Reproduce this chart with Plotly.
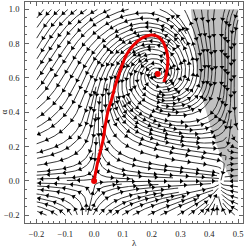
import math
import numpy as np
import plotly.graph_objects as go

# ---------------- values ----------------
x_tick_vals = [-0.2, -0.1, 0.0, 0.1, 0.2, 0.3, 0.4, 0.5]
x_tick_text = ["\u22120.2", "\u22120.1", "0.0", "0.1", "0.2", "0.3", "0.4", "0.5"]
y_tick_vals = [-0.2, 0.0, 0.2, 0.4, 0.6, 0.8, 1.0]
y_tick_text = ["\u22120.2", "0.0", "0.2", "0.4", "0.6", "0.8", "1.0"]

x_range = [-0.24, 0.517]
y_range = [-0.245, 1.042]
lam_domain = [-0.2, 0.5]
alpha_domain = [-0.2, 1.0]

# grey region: left boundary (lambda at given alpha), right edge at lambda = 0.5
gray_alpha = [1.0, 0.665, 0.47, 0.33, 0.22, 0.12, 0.05, 0.0]
gray_lam = [0.336, 0.357, 0.378, 0.402, 0.423, 0.446, 0.463, 0.475]

# red trajectory
red_lam = [0.0, 0.014, 0.031, 0.039, 0.049, 0.060, 0.074, 0.091, 0.112, 0.137,
           0.165, 0.193, 0.218, 0.235, 0.249, 0.256, 0.254, 0.249, 0.242]
red_alpha = [0.0, 0.122, 0.238, 0.326, 0.413, 0.471, 0.558, 0.645, 0.733, 0.791,
             0.831, 0.849, 0.843, 0.820, 0.773, 0.715, 0.657, 0.610, 0.576]

# red points (saddle at origin, spiral focus)
point_lam = [0.0, 0.221]
point_alpha = [0.0, 0.622]

# fixed point of the flow along alpha = 0
node_lam = 0.44

# flow directions: lambda, alpha, angle on screen (deg)
sample_lam = [-0.17, -0.08, 0.0, -0.17, -0.08, 0.0, -0.17, -0.08, 0.02, -0.17, -0.08,
              -0.17, -0.08, -0.15, -0.05,
              0.03, 0.05, 0.09, 0.015,
              0.10, 0.15, 0.205, 0.18, 0.26, 0.243, 0.255, 0.30, 0.32, 0.30,
              0.221, 0.17, 0.221, 0.26,
              0.20, 0.13, 0.10, 0.20, 0.30, 0.38, 0.10, 0.25, 0.35, 0.35, 0.38,
              -0.17, -0.08, 0.05, 0.18, 0.33, 0.47, -0.17, 0.40,
              0.45, 0.42, 0.47, 0.44, 0.48, 0.40, 0.49]
sample_alpha = [0.97, 0.97, 0.97, 0.82, 0.82, 0.82, 0.65, 0.65, 0.65, 0.48, 0.48,
                0.30, 0.25, 0.12, 0.10,
                0.30, 0.45, 0.64, 0.12,
                0.95, 0.83, 0.847, 0.99, 0.96, 0.80, 0.69, 0.88, 0.70, 0.58,
                0.56, 0.62, 0.69, 0.62,
                0.45, 0.50, 0.30, 0.30, 0.30, 0.25, 0.15, 0.15, 0.12, 0.33, 0.18,
                -0.08, -0.15, -0.15, -0.12, -0.12, -0.12, -0.18, -0.18,
                0.95, 0.75, 0.60, 0.45, 0.35, 0.92, 0.85]
sample_angle = [226, 224, 215, 230, 232, 236, 236, 240, 246, 238, 244,
                220, 235, 200, 215,
                262, 253, 248, 265,
                200, 218, 172, 178, 140, 117, 92, 110, 95, 88,
                10, 265, 175, 85,
                15, 290, 305, 350, 348, 335, 330, 352, 345, 350, 335,
                165, 125, 60, 30, 35, 130, 150, 70,
                84, 86, 84, 88, 80, 88, 84]

# ---------------- screen scale ----------------
SX = 218.0 / (x_range[1] - x_range[0])
SY = 221.0 / (y_range[1] - y_range[0])

# ---------------- fit a smooth field to the directions ----------------
A_COEF = 6.0
flam, falp = point_lam[1], point_alpha[1]
powers = [(i, j) for i in range(4) for j in range(4) if i + j <= 3]


def basis(l, a):
    x, y = l - 0.15, a - 0.4
    return np.array([x ** i * y ** j for (i, j) in powers])


def aterm(l):
    return A_COEF * l * (node_lam - l)


nb = len(powers)
rows, rhs = [], []
for l, a, th in zip(sample_lam, sample_alpha, sample_angle):
    t = math.radians(th)
    dl, da = math.cos(t) / SX, math.sin(t) / SY
    n = math.hypot(dl, da)
    dl, da = dl / n, da / n
    ph = basis(l, a)
    T = aterm(l)
    w = 1.6 if l >= 0.4 else 1.0
    r = np.zeros(2 * nb); r[:nb] = da * a * ph; r[nb:] = -dl * a * ph
    rows.append(w * r); rhs.append(-w * da * T)
    r = np.zeros(2 * nb); r[:nb] = dl * a * ph; r[nb:] = da * a * ph
    rows.append(0.4 * r); rhs.append(0.4 * (0.5 - dl * T))
wf = 20.0
ph = basis(flam, falp)
r = np.zeros(2 * nb); r[:nb] = falp * ph; rows.append(wf * r); rhs.append(-wf * aterm(flam))
r = np.zeros(2 * nb); r[nb:] = falp * ph; rows.append(wf * r); rhs.append(0.0)
r = np.zeros(2 * nb); r[nb:] = basis(0.0, 0.0); rows.append(2 * r); rhs.append(2 * -1.5)
r = np.zeros(2 * nb); r[nb:] = basis(node_lam, 0.0); rows.append(2 * r); rhs.append(2 * -0.6)
r = np.zeros(2 * nb); r[:nb] = basis(0.0, 0.0); rows.append(r); rhs.append(-0.3)
M = np.vstack(rows + [0.03 * np.eye(2 * nb)])
b = np.concatenate([np.array(rhs), np.zeros(2 * nb)])
coef = np.linalg.lstsq(M, b, rcond=None)[0]
cq, ch = coef[:nb], coef[nb:]


def field(l, a):
    ph = basis(l, a)
    return aterm(l) + a * float(ph @ cq), a * float(ph @ ch)


# ---------------- evenly spaced streamlines ----------------
W = (lam_domain[1] - lam_domain[0]) * SX
H = (alpha_domain[1] - alpha_domain[0]) * SY
DSEP = 5.5
DTEST = 0.45 * DSEP
STEP = 0.5
VMIN = 0.3
MAXSTEPS = 4000
grid = {}


def vel(X, Y):
    F, G = field(lam_domain[0] + X / SX, alpha_domain[0] + Y / SY)
    return F * SX, G * SY


def add_pt(X, Y, lid, s):
    grid.setdefault((int(X // DSEP), int(Y // DSEP)), []).append((X, Y, lid, s))


def remove_line(lid):
    for k in list(grid.keys()):
        grid[k] = [p for p in grid[k] if p[2] != lid]


def near(X, Y, r, lid=None, s=0.0):
    cx, cy = int(X // DSEP), int(Y // DSEP)
    r2 = r * r
    for i in (cx - 1, cx, cx + 1):
        for j in (cy - 1, cy, cy + 1):
            for (px, py, pl, ps) in grid.get((i, j), ()):
                if pl == lid and abs(ps - s) < 3 * DSEP:
                    continue
                if (px - X) ** 2 + (py - Y) ** 2 < r2:
                    return True
    return False


def direction(X, Y, sgn):
    vx, vy = vel(X, Y)
    n = math.hypot(vx, vy)
    if n < VMIN:
        return None
    return sgn * vx / n, sgn * vy / n


def half(X, Y, sgn, lid):
    pts = []
    s = 0.0
    for _ in range(MAXSTEPS):
        d1 = direction(X, Y, sgn)
        if d1 is None:
            break
        d2 = direction(X + 0.5 * STEP * d1[0], Y + 0.5 * STEP * d1[1], sgn)
        if d2 is None:
            break
        Xn, Yn = X + STEP * d2[0], Y + STEP * d2[1]
        if not (0 <= Xn <= W and 0 <= Yn <= H):
            break
        s += STEP
        if near(Xn, Yn, DTEST, lid, sgn * s):
            break
        add_pt(Xn, Yn, lid, sgn * s)
        pts.append((Xn, Yn))
        X, Y = Xn, Yn
    return pts


lines = []


def make_line(X, Y, lid):
    if not (0 <= X <= W and 0 <= Y <= H):
        return None
    if near(X, Y, DSEP * 0.95):
        return None
    if direction(X, Y, 1) is None:
        return None
    add_pt(X, Y, lid, 0.0)
    fw = half(X, Y, 1, lid)
    bw = half(X, Y, -1, lid)
    pts = bw[::-1] + [(X, Y)] + fw
    if len(pts) * STEP < 6:
        remove_line(lid)
        return None
    return pts


queue = []
seed_grid = [(gx, gy) for gy in np.arange(H - 4, 0, -14) for gx in np.arange(4, W, 14)]
lid = 0
for sx, sy in seed_grid:
    queue.append((sx, sy))
    while queue:
        X, Y = queue.pop(0)
        pts = make_line(X, Y, lid)
        if pts is None:
            continue
        lines.append(pts)
        lid += 1
        for k in range(2, len(pts) - 2, 3):
            dx = pts[k + 1][0] - pts[k - 1][0]
            dy = pts[k + 1][1] - pts[k - 1][1]
            n = math.hypot(dx, dy)
            if n == 0:
                continue
            nx, ny = -dy / n, dx / n
            for sg in (1, -1):
                queue.append((pts[k][0] + sg * DSEP * nx, pts[k][1] + sg * DSEP * ny))


def in_gray(l, a):
    if a < 0 or a > 1.0 or l > 0.5:
        return False
    return l >= np.interp(a, gray_alpha[::-1], gray_lam[::-1])


line_x, line_y = [], []
arr_x, arr_y, arr_ang = [], [], []
ARROW_GAP = 16.0
ARROW_OFF = 6.0
for pts in lines:
    for (X, Y) in pts[::2]:
        line_x.append(lam_domain[0] + X / SX)
        line_y.append(alpha_domain[0] + Y / SY)
    line_x.append(None)
    line_y.append(None)
    L = (len(pts) - 1) * STEP
    if L < 8:
        continue
    targets = list(np.arange(ARROW_OFF, L - 2, ARROW_GAP)) if L > ARROW_OFF + 2 else [L / 2]
    for t in targets:
        k = int(round(t / STEP))
        k = min(max(k, 1), len(pts) - 2)
        dx = pts[k + 1][0] - pts[k - 1][0]
        dy = pts[k + 1][1] - pts[k - 1][1]
        l = lam_domain[0] + pts[k][0] / SX
        a = alpha_domain[0] + pts[k][1] / SY
        if in_gray(l, a):
            dx, dy = -dx, -dy
        arr_x.append(l)
        arr_y.append(a)
        arr_ang.append(math.degrees(math.atan2(dx, dy)))

fig = go.Figure()
fig.add_trace(go.Scatter(
    x=gray_lam + [0.5, 0.5], y=gray_alpha + [0.0, 1.0],
    fill="toself", fillcolor="rgb(192,192,192)", mode="none", hoverinfo="skip"))
fig.add_trace(go.Scatter(
    x=line_x, y=line_y, mode="lines",
    line=dict(color="rgb(30,30,30)", width=0.9), hoverinfo="skip"))
fig.add_trace(go.Scatter(
    x=arr_x, y=arr_y, mode="markers",
    marker=dict(symbol="triangle-up", size=4.5, angle=arr_ang, color="black",
                line=dict(width=0)), hoverinfo="skip"))
fig.add_trace(go.Scatter(
    x=red_lam, y=red_alpha, mode="lines",
    line=dict(color="rgb(235,0,0)", width=3, shape="spline"), hoverinfo="skip"))
fig.add_trace(go.Scatter(
    x=point_lam, y=point_alpha, mode="markers",
    marker=dict(color="rgb(235,0,0)", size=6), hoverinfo="skip"))

axis_common = dict(
    showgrid=False, zeroline=False, showline=True, linecolor="#666", linewidth=0.8,
    mirror="ticks", ticks="inside", ticklen=4, tickwidth=0.7, tickcolor="#666",
    tickfont=dict(family="Liberation Serif", size=8.5, color="#222"),
    ticklabelstandoff=3, automargin=False,
)
fig.update_layout(
    width=249, height=248,
    margin=dict(l=25, r=6, t=2, b=25, autoexpand=False),
    paper_bgcolor="white", plot_bgcolor="white",
    showlegend=False,
    xaxis=dict(range=x_range, tickvals=x_tick_vals, ticktext=x_tick_text,
               minor=dict(dtick=0.02, ticks="inside", ticklen=2, tickcolor="#666", showgrid=False),
               **axis_common),
    yaxis=dict(range=y_range, tickvals=y_tick_vals, ticktext=y_tick_text,
               minor=dict(dtick=0.05, ticks="inside", ticklen=2, tickcolor="#666", showgrid=False),
               **axis_common),
    annotations=[
        dict(text="\u03bb", x=0.5, y=0, xref="paper", yref="paper", xanchor="center",
             yanchor="top", yshift=-13, showarrow=False,
             font=dict(family="Liberation Serif", size=9, color="#222")),
        dict(text="\u03b1", x=0, y=0.5, xref="paper", yref="paper", xanchor="right",
             yanchor="middle", xshift=-15, textangle=-90, showarrow=False,
             font=dict(family="Liberation Serif", size=9, color="#222")),
    ],
)
fig.write_html(
    "out.html",
    config={"displayModeBar": False},
    post_script="document.documentElement.style.margin='0';document.body.style.margin='0';"
                "document.body.style.padding='0';document.body.style.overflow='hidden';",
)
